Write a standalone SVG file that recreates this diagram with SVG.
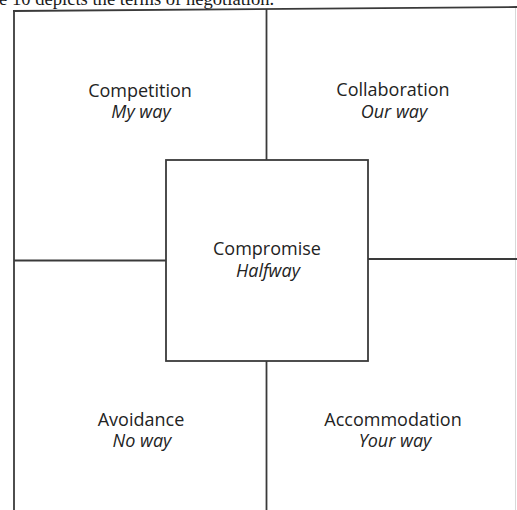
<svg xmlns="http://www.w3.org/2000/svg" width="517" height="510" viewBox="0 0 517 510">
  <style>
    .rule { stroke: #3a3a3a; stroke-width: 1.8; fill: none; stroke-linecap: butt; }
    .faint { stroke: #d8d8d8; stroke-width: 1; fill: none; }
    .box { stroke: #3a3a3a; stroke-width: 1.8; fill: #ffffff; }
    .name { font-family: "Open Sans", "Noto Sans", sans-serif; font-size: 18px; fill: #232323; text-anchor: middle; }
    .way { font-family: "Open Sans", "Noto Sans", sans-serif; font-size: 18px; font-style: italic; fill: #232323; text-anchor: middle; }
    .caption { font-family: "Liberation Serif", "Times New Roman", serif; font-size: 18.6px; fill: #1a1a1a; }
  </style>
  <rect width="517" height="510" fill="#ffffff"/>

  <!-- running text line above the figure, clipped by the page edge -->
  <text class="caption" x="-1" y="4.5">e 10 depicts the terms of negotiation.</text>

  <!-- frame and dividing rules -->
  <g id="connectors">
    <line class="rule" x1="14" y1="11" x2="14" y2="510"/>
    <line class="rule" x1="13" y1="11" x2="517" y2="7"/>
    <line class="faint" x1="515.5" y1="8" x2="515.5" y2="510"/>
    <line class="rule" x1="266.5" y1="9" x2="266.5" y2="160"/>
    <line class="rule" x1="266.5" y1="361" x2="266.5" y2="510"/>
    <line class="rule" x1="14" y1="260.5" x2="166" y2="260.5"/>
    <line class="rule" x1="368" y1="259" x2="517" y2="259"/>
  </g>

  <g id="competition">
    <text class="name" x="140" y="97">Competition</text>
    <text class="way" x="141" y="118">My way</text>
  </g>

  <g id="collaboration">
    <text class="name" x="393" y="96">Collaboration</text>
    <text class="way" x="394" y="118">Our way</text>
  </g>

  <g id="compromise">
    <rect class="box" x="166" y="160" width="202" height="201"/>
    <text class="name" x="267" y="255">Compromise</text>
    <text class="way" x="268" y="277">Halfway</text>
  </g>

  <g id="avoidance">
    <text class="name" x="141" y="426">Avoidance</text>
    <text class="way" x="142" y="447">No way</text>
  </g>

  <g id="accommodation">
    <text class="name" x="393" y="426">Accommodation</text>
    <text class="way" x="395" y="447">Your way</text>
  </g>
</svg>
